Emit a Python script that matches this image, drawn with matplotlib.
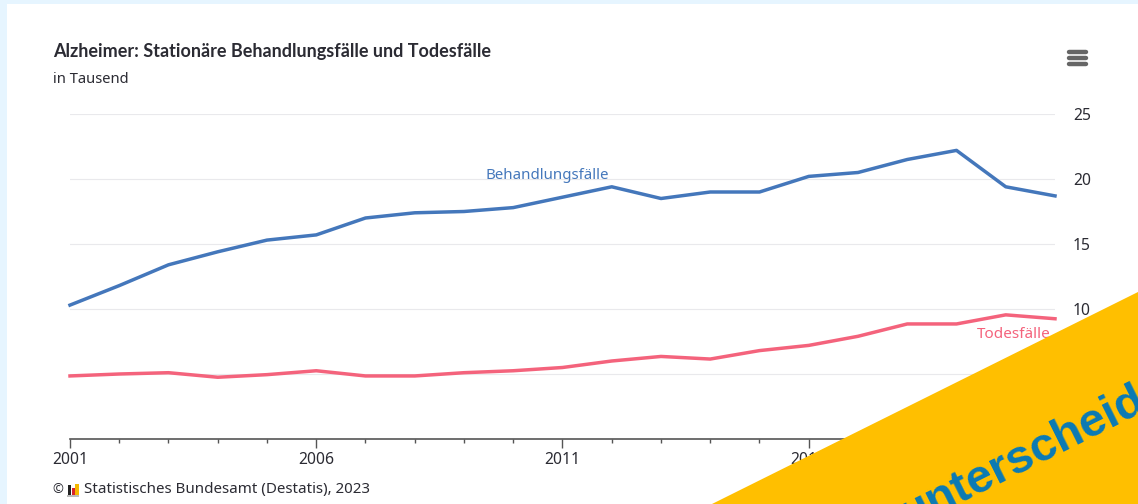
import matplotlib
matplotlib.use("Agg")
import matplotlib.pyplot as plt
from matplotlib.lines import Line2D
from matplotlib.patches import Polygon, Rectangle

W, H = 1138, 504

years = list(range(2001, 2022))
behandlung = [10.3, 11.8, 13.4, 14.4, 15.3, 15.7, 17.0, 17.4, 17.5, 17.8, 18.6,
              19.4, 18.5, 19.0, 19.0, 20.2, 20.5, 21.5, 22.2, 19.4, 18.7]
todesfaelle = [4.85, 5.0, 5.1, 4.75, 4.95, 5.25, 4.85, 4.85, 5.1, 5.25, 5.5,
               6.0, 6.35, 6.15, 6.8, 7.2, 7.9, 8.85, 8.85, 9.55, 9.25]
y_ticks = [5, 10, 15, 20, 25]
x_labels = [2001, 2006, 2011, 2016, 2021]

C_BLUE = "#4477bb"
C_RED = "#f4637c"
C_TEXT = "#2b2b33"
C_BG = "#e6f5ff"
C_BANNER = "#ffbf00"
C_BANNER_TEXT = "#0a7ab5"

plt.rcParams["font.family"] = ["Noto Sans", "DejaVu Sans"]


def fx(px):
    return px / W


def fy(py):
    return 1 - py / H


fig = plt.figure(figsize=(W / 100, H / 100), dpi=100, facecolor=C_BG)
# white card
fig.add_artist(Rectangle((fx(7), 0), 1 - fx(7), fy(4), transform=fig.transFigure,
                         facecolor="white", edgecolor="none", zorder=-1))

ax = fig.add_axes([fx(70), fy(439), fx(1055 - 70), fy(114) - fy(439)], facecolor="none")
ax.set_xlim(2001, 2021)
ax.set_ylim(0, 25)

ax.plot(years, behandlung, color=C_BLUE, lw=2.5, solid_joinstyle="round", clip_on=False, zorder=3)
ax.plot(years, todesfaelle, color=C_RED, lw=2.5, solid_joinstyle="round", clip_on=False, zorder=3)

ax.yaxis.tick_right()
ax.set_yticks(y_ticks)
ax.set_yticklabels([str(v) for v in y_ticks], fontsize=11.3, color=C_TEXT)
ax.tick_params(axis="y", length=0, pad=13)
ax.grid(axis="y", color="#e9e9ec", lw=0.8)
ax.set_axisbelow(True)

ax.set_xticks(x_labels)
ax.set_xticklabels([str(v) for v in x_labels], fontsize=11.3, color=C_TEXT)
ax.set_xticks(years, minor=True)
ax.tick_params(axis="x", which="major", length=6.5, width=1, color="#555555", pad=2.5)
ax.tick_params(axis="x", which="minor", length=2.8, width=1, color="#555555")
for side in ["top", "left", "right"]:
    ax.spines[side].set_visible(False)
ax.spines["bottom"].set_color("#555555")
ax.spines["bottom"].set_linewidth(1.2)

ax.text(2010.7, 19.67, "Behandlungsfälle", color=C_BLUE, fontsize=10.8, ha="center", va="bottom")
ax.text(2020.92, 8.05, "Todesfälle", color=C_RED, fontsize=11, ha="right", va="center")

fig.text(fx(53), fy(52), "Alzheimer: Stationäre Behandlungsfälle und Todesfälle",
         fontsize=13, fontweight="bold", family="Lato", color=C_TEXT, va="center")
fig.text(fx(53), fy(79.5), "in Tausend", fontsize=10.6, color=C_TEXT, va="center")

# menu icon
for py in [52, 57.5, 63.5]:
    fig.add_artist(Line2D([fx(1069), fx(1086)], [fy(py), fy(py)], transform=fig.transFigure,
                          color="#666666", lw=3.2, solid_capstyle="round"))

# footer with small Destatis logo
fig.text(fx(52.5), fy(490), "©", fontsize=9.5, color=C_TEXT, va="center")
fig.text(fx(84), fy(490), "Statistisches Bundesamt (Destatis), 2023", fontsize=10.9,
         color=C_TEXT, va="center")
for x0, top, c in [(67.5, 485, "#222222"), (71.5, 488, "#d8242c"), (75.5, 484, "#f5b800")]:
    fig.add_artist(Rectangle((fx(x0), fy(495)), fx(3.5), fy(top) - fy(495),
                             transform=fig.transFigure, facecolor=c, edgecolor="none"))
fig.add_artist(Rectangle((fx(67), fy(497)), fx(12), fy(495) - fy(497),
                         transform=fig.transFigure, facecolor="#bbbbbb", edgecolor="none"))

# corner banner
fig.add_artist(Polygon([(fx(712), fy(504)), (fx(1138), fy(292)), (fx(1138), fy(504))],
                       closed=True, transform=fig.transFigure, facecolor=C_BANNER,
                       edgecolor="none", zorder=10))
fig.text(fx(908), fy(528), "unterscheid", fontsize=34, fontweight="bold",
         family="Liberation Sans", color=C_BANNER_TEXT, rotation=26.5,
         rotation_mode="anchor", ha="left", va="baseline", zorder=11)

fig.savefig("out.png", dpi=100, facecolor=fig.get_facecolor())
